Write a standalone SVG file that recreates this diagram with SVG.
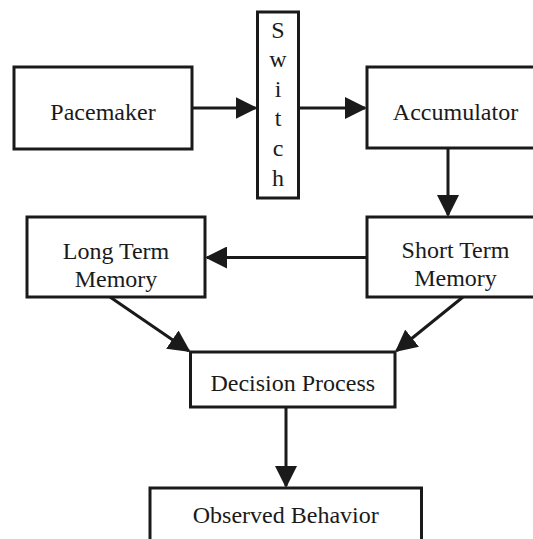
<svg xmlns="http://www.w3.org/2000/svg" width="533" height="539" viewBox="0 0 533 539">
<style>
.box{fill:#fff;stroke:#1a1a1a;stroke-width:3}
.lbl{font-family:"Liberation Serif","Times New Roman",serif;font-size:24px;fill:#1a1a1a;text-anchor:middle}
.edge{fill:none;stroke:#1a1a1a;stroke-width:3;marker-end:url(#ah)}
</style>
<defs>
<marker id="ah" markerUnits="userSpaceOnUse" markerWidth="22" markerHeight="22" refX="20" refY="11" orient="auto">
<path d="M0,0 L22,11 L0,22 Z" fill="#1a1a1a"/>
</marker>
</defs>
<rect width="533" height="539" fill="#fff"/>
<g id="connectors">
<line class="edge" x1="192" y1="108" x2="255.5" y2="108"/>
<line class="edge" x1="298.5" y1="108" x2="365" y2="108"/>
<line class="edge" x1="448" y1="148" x2="448" y2="215"/>
<line class="edge" x1="367" y1="257.5" x2="207" y2="257.5"/>
<line class="edge" x1="110" y1="297" x2="188.85" y2="350.9"/>
<line class="edge" x1="463" y1="297" x2="396.55" y2="350.74"/>
<line class="edge" x1="286" y1="407" x2="286" y2="486"/>
</g>
<g id="pacemaker">
<rect class="box" x="14" y="67" width="178" height="82"/>
<text class="lbl" x="103" y="120">Pacemaker</text>
</g>
<g id="switch">
<rect class="box" x="257.5" y="12" width="41" height="186"/>
<text class="lbl" x="278" y="37.5">S</text>
<text class="lbl" x="278" y="67.1">w</text>
<text class="lbl" x="278" y="96.7">i</text>
<text class="lbl" x="278" y="126.3">t</text>
<text class="lbl" x="278" y="155.9">c</text>
<text class="lbl" x="278" y="185.5">h</text>
</g>
<g id="accumulator">
<rect class="box" x="367" y="67" width="177" height="81"/>
<text class="lbl" x="455.5" y="120">Accumulator</text>
</g>
<g id="short-term-memory">
<rect class="box" x="367" y="217" width="177" height="80"/>
<text class="lbl" x="455.5" y="258">Short Term</text>
<text class="lbl" x="455.5" y="286">Memory</text>
</g>
<g id="long-term-memory">
<rect class="box" x="27" y="217" width="178" height="80"/>
<text class="lbl" x="116" y="259">Long Term</text>
<text class="lbl" x="116" y="287">Memory</text>
</g>
<g id="decision-process">
<rect class="box" x="190.5" y="352" width="204.5" height="55"/>
<text class="lbl" x="292.75" y="391">Decision Process</text>
</g>
<g id="observed-behavior">
<rect class="box" x="150" y="488" width="271.5" height="60"/>
<text class="lbl" x="285.75" y="523">Observed Behavior</text>
</g>
</svg>
